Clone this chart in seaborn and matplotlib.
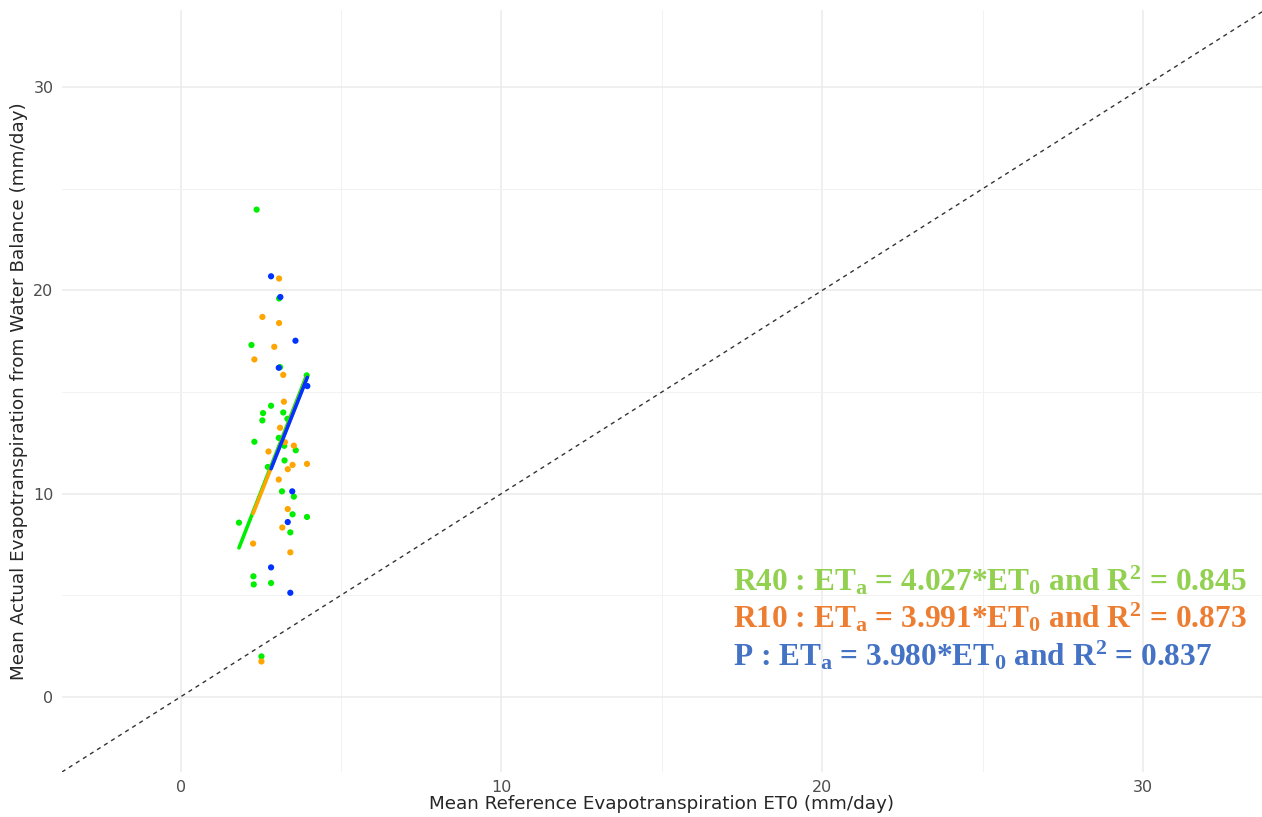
import numpy as np
import pandas as pd
import matplotlib
matplotlib.use("Agg")
import matplotlib.pyplot as plt
import seaborn as sns

# ET0 (x) and ETa (y) per treatment
r40_x = [2.37, 3.07, 3.10, 2.21, 3.93, 2.82, 2.57, 3.20, 2.55, 3.33, 3.06, 2.30, 3.23,
         3.59, 3.24, 2.72, 3.16, 3.53, 3.49, 3.94, 1.82, 3.42, 2.27, 2.28, 2.82, 2.52]
r40_y = [23.97, 19.60, 16.22, 17.31, 15.81, 14.32, 13.96, 13.99, 13.60, 13.68, 12.74, 12.55, 12.35,
         12.13, 11.63, 11.31, 10.11, 9.85, 8.98, 8.85, 8.57, 8.09, 5.93, 5.53, 5.60, 1.99]
r10_x = [3.07, 2.55, 3.07, 2.92, 2.30, 3.20, 3.22, 3.10, 3.25, 3.53, 2.74, 3.49, 3.34,
         3.94, 3.06, 3.34, 3.17, 2.26, 3.42, 2.52]
r10_y = [20.58, 18.69, 18.39, 17.22, 16.60, 15.84, 14.52, 13.24, 12.53, 12.36, 12.07, 11.41, 11.20,
         11.46, 10.69, 9.24, 8.33, 7.54, 7.11, 1.74]
p_x = [2.82, 3.11, 3.06, 3.58, 3.95, 3.48, 3.34, 2.82, 3.42]
p_y = [20.69, 19.67, 16.19, 17.52, 15.29, 10.11, 8.60, 6.37, 5.12]

groups = ["R40", "R10", "P"]
slopes = [4.027, 3.991, 3.980]
r2 = [0.845, 0.873, 0.837]

point_colors = {"R40": "#00EE00", "R10": "#FFA500", "P": "#0033FF"}
text_colors = {"R40": "#92D050", "R10": "#ED7D31", "P": "#4472C4"}

df = pd.concat([
    pd.DataFrame({"ET0": r40_x, "ETa": r40_y, "grp": "R40"}),
    pd.DataFrame({"ET0": r10_x, "ETa": r10_y, "grp": "R10"}),
    pd.DataFrame({"ET0": p_x, "ETa": p_y, "grp": "P"}),
], ignore_index=True)

sns.set_theme(style="whitegrid")
plt.rcParams["font.family"] = ["DejaVu Sans"]
plt.rcParams["mathtext.fontset"] = "custom"
plt.rcParams["mathtext.rm"] = "Liberation Serif:bold"
plt.rcParams["mathtext.it"] = "Liberation Serif:bold"
plt.rcParams["mathtext.bf"] = "Liberation Serif:bold"

fig, ax = plt.subplots(figsize=(12.62, 8.17), dpi=100)
fig.subplots_adjust(left=0.049, right=1.0, top=0.988, bottom=0.055)

sns.scatterplot(data=df, x="ET0", y="ETa", hue="grp", palette=point_colors,
                s=20, linewidth=0, legend=False, ax=ax, zorder=3)

# fitted lines through the origin, over each group's ET0 range
for g, k in zip(groups, slopes):
    xs = df.loc[df.grp == g, "ET0"]
    xl = np.array([xs.min(), xs.max()])
    sns.lineplot(x=xl, y=k * xl, color=point_colors[g], linewidth=2.6, ax=ax, zorder=4)

# 1:1 line
ax.axline((0, 0), slope=1, color="#333333", linestyle=(0, (3, 3)), linewidth=1.0, zorder=2)

ax.set_xlim(-3.7, 33.7)
ax.set_ylim(-3.7, 33.8)
ax.set_xticks([0, 10, 20, 30])
ax.set_yticks([0, 10, 20, 30])
ax.set_xticks([5, 15, 25], minor=True)
ax.set_yticks([5, 15, 25], minor=True)
ax.grid(which="major", color="#EBEBEB", linewidth=1.1)
ax.grid(which="minor", color="#F2F2F2", linewidth=0.7)
for s in ax.spines.values():
    s.set_visible(False)
ax.tick_params(which="both", length=0, labelsize=11.5, colors="#4D4D4D", pad=6)
ax.set_xlabel("Mean Reference Evapotranspiration ET0 (mm/day)", fontsize=13.2, labelpad=0)
ax.set_ylabel("Mean Actual Evapotranspiration from Water Balance (mm/day)", fontsize=13.2, labelpad=4)

for i, (g, k, r) in enumerate(zip(groups, slopes, r2)):
    label = r"%s : ET$_\mathrm{a}$ = %.3f*ET$_\mathrm{0}$ and R$^\mathrm{2}$ = %.3f" % (g, k, r)
    ax.text(0.559, 0.2386 - i * 0.0492, label, transform=ax.transAxes,
            fontsize=22.6, fontfamily="Liberation Serif", fontweight="bold",
            color=text_colors[g], ha="left", va="baseline")

fig.savefig("out.png", dpi=100)
